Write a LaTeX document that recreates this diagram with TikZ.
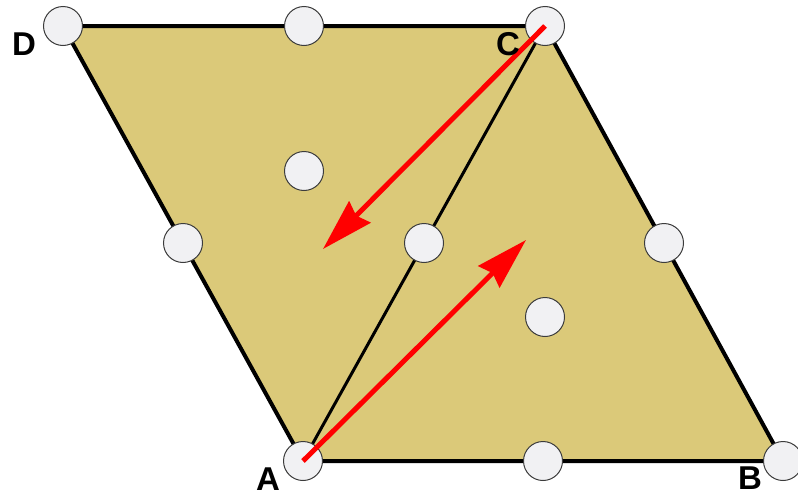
\documentclass[tikz,border=0pt]{standalone}
\usepackage{fontspec}
\setmainfont{Liberation Sans}
\usetikzlibrary{arrows.meta}
\definecolor{tan}{RGB}{219,201,121}
\definecolor{dotfill}{RGB}{241,241,243}
\definecolor{dotline}{RGB}{60,60,60}
\begin{document}
\begin{tikzpicture}[x=1pt,y=-1pt,
  dot/.style={circle,draw=dotline,line width=1pt,fill=dotfill,minimum size=39pt,inner sep=0pt},
  lbl/.style={font=\fontsize{33}{33}\selectfont\bfseries,inner sep=0pt},
  redarrow/.style={red,line width=5pt,-{Stealth[length=52pt,width=30pt,inset=5pt]}}]
\useasboundingbox (0,0) rectangle (798,498);
\coordinate (A) at (303,461);
\coordinate (B) at (783,461);
\coordinate (C) at (545,26);
\coordinate (D) at (63,26);
\coordinate (T1) at (526,240);
\coordinate (T2) at (323,249);
\fill[tan] (A) -- (B) -- (C) -- (D) -- cycle;
\draw[line width=4pt,line join=miter] (A) -- (B) -- (C) -- (D) -- cycle;
\draw[line width=3pt] (A) -- (C);
\node[dot] (nA) at (A) {};
\node[dot] (nB) at (B) {};
\node[dot] (nC) at (C) {};
\node[dot] (nD) at (D) {};
\node[dot] (mDC) at (304,26) {};
\node[dot] (mAB) at (543,461) {};
\node[dot] (mAD) at (183,243) {};
\node[dot] (mBC) at (664,243) {};
\node[dot] (mAC) at (424,243) {};
\node[dot] (gACD) at (304,171) {};
\node[dot] (gABC) at (545,317) {};
\draw[redarrow] (nA.center) -- (T1);
\draw[redarrow] (nC.center) -- (T2);
\node[lbl] (lD) at (24,44) {D};
\node[lbl] (lC) at (508,44) {C};
\node[lbl] (lA) at (268,479) {A};
\node[lbl] (lB) at (750,478) {B};
\end{tikzpicture}
\end{document}
